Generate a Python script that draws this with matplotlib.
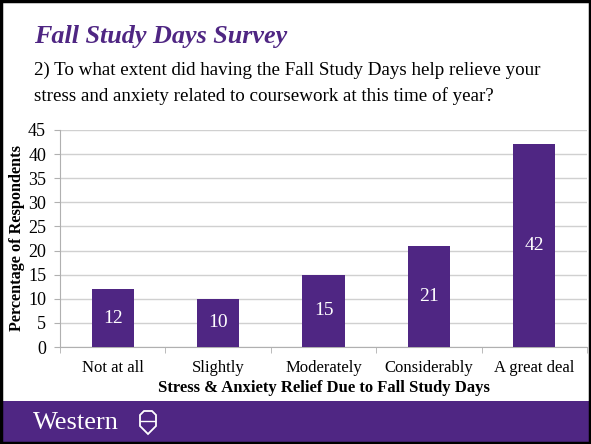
import matplotlib
matplotlib.use("Agg")
import matplotlib.pyplot as plt
from matplotlib.patches import Rectangle, Polygon

categories = ["Not at all", "Slightly", "Moderately", "Considerably", "A great deal"]
values = [12, 10, 15, 21, 42]
yticks = [0, 5, 10, 15, 20, 25, 30, 35, 40, 45]

PURPLE = "#4F2683"
SERIF = ["Liberation Serif", "DejaVu Serif"]

fig = plt.figure(figsize=(5.91, 4.44), dpi=100)
fig.patch.set_facecolor("white")

W, H = 591, 444
def fx(px): return px / W
def fy(py): return 1 - py / H

AX_L, AX_R = 60, 587
ax = fig.add_axes([fx(AX_L), fy(347), fx(AX_R) - fx(AX_L), fy(130) - fy(347)])
x = list(range(len(categories)))
ax.bar(x, values, width=0.4, color=PURPLE, zorder=3)
for xi, v in zip(x, values):
    ax.text(xi, v / 2, str(v), ha="center", va="center", color="white",
            fontsize=14, family=SERIF, zorder=4)

ax.set_xlim(-0.5, len(categories) - 0.5)
ax.set_ylim(0, 45)
ax.set_yticks(yticks)
ax.set_yticklabels([str(t) for t in yticks], family=SERIF, fontsize=13)
ax.set_xticks(x)
ax.set_xticklabels(categories, family=SERIF, fontsize=12)
ax.tick_params(axis="x", length=0, pad=9)
ax.set_xticks([i - 0.5 for i in range(len(categories) + 1)], minor=True)
ax.tick_params(axis="x", which="minor", length=4, color="#b0b0b0", direction="out")
ax.tick_params(axis="y", length=4, color="#b0b0b0", pad=6)
ax.grid(axis="y", color="#d0d0d0", linewidth=1, zorder=0)
for s in ["top", "right"]:
    ax.spines[s].set_visible(False)
ax.spines["left"].set_color("#b0b0b0")
ax.spines["bottom"].set_color("#b0b0b0")

ax.set_xlabel("Stress & Anxiety Relief Due to Fall Study Days", family=SERIF,
              fontsize=12, fontweight="bold", labelpad=3)
ax.set_ylabel("Percentage of Respondents", family=SERIF, fontsize=11.7,
              fontweight="bold")
ax.yaxis.set_label_coords(-(AX_L - 25) / (AX_R - AX_L), (347 - 238) / (347 - 130))

fig.text(fx(34), fy(36), "Fall Study Days Survey", family=SERIF, fontsize=18.8,
         fontweight="bold", fontstyle="italic", color=PURPLE, va="center", ha="left")
fig.text(fx(34), fy(70), "2) To what extent did having the Fall Study Days help relieve your",
         family=SERIF, fontsize=13.7, color="black", va="center", ha="left")
fig.text(fx(34), fy(96), "stress and anxiety related to coursework at this time of year?",
         family=SERIF, fontsize=13.7, color="black", va="center", ha="left")

# footer band
fig.patches.append(Rectangle((0, 0), 1, fy(401), transform=fig.transFigure,
                             facecolor=PURPLE, edgecolor="none", zorder=0))
fig.text(fx(33), fy(423), "Western", family=SERIF, fontsize=19, color="white",
         va="center", ha="left")
# simple crest
cx, cy = 148, 423
pts = [(cx - 8, cy - 8), (cx - 4, cy - 12), (cx + 4, cy - 12), (cx + 8, cy - 8),
       (cx + 8, cy + 3), (cx, cy + 11), (cx - 8, cy + 3)]
fig.patches.append(Polygon([(fx(a), fy(b)) for a, b in pts], closed=True,
                           transform=fig.transFigure, facecolor="none",
                           edgecolor="white", linewidth=1.3, zorder=2))
fig.patches.append(Polygon([(fx(cx - 8), fy(cy - 2)), (fx(cx + 8), fy(cy - 2))],
                           closed=False, transform=fig.transFigure, fill=False,
                           edgecolor="white", linewidth=1.0, zorder=2))

# outer border
fig.patches.append(Rectangle((0.002, 0.003), 0.996, 0.994, transform=fig.transFigure,
                             facecolor="none", edgecolor="black", linewidth=2.5, zorder=5))

fig.savefig("out.png", dpi=100)
